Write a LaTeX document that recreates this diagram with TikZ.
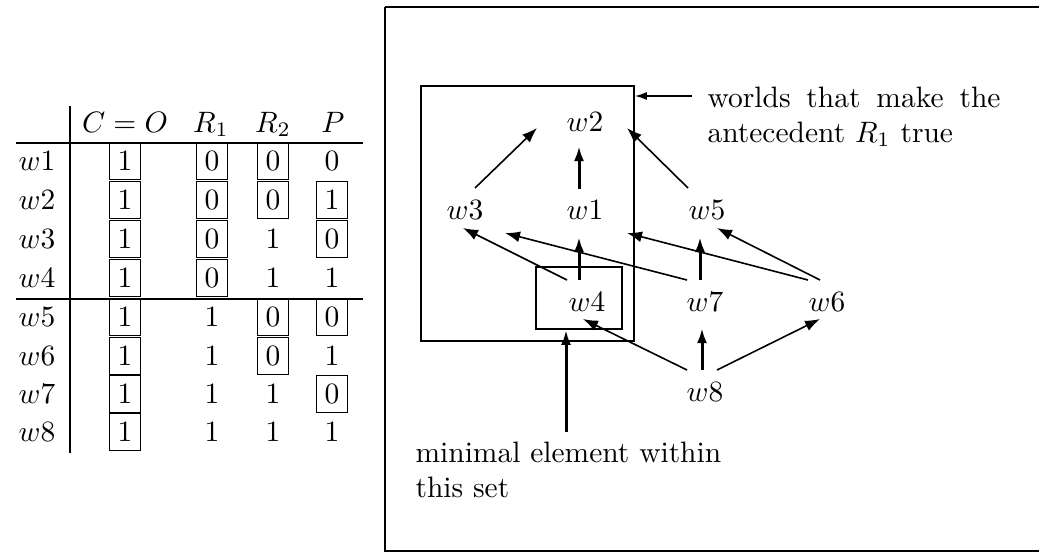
\documentclass[tikz,border=0pt]{standalone}
\usetikzlibrary{arrows.meta}
\begin{document}
\begin{tikzpicture}[x=1pt,y=-1pt,
  every node/.style={inner sep=0pt},
  tx/.style={scale=2.95, transform shape},
  frame/.style={draw, line width=1.7pt},
  rulel/.style={line width=1.7pt},
  val/.style={tx, minimum width=10.5pt, minimum height=12.54pt},
  bval/.style={val, draw, line width=1.7pt},
  darr/.style={-{Latex[length=15pt,width=11pt]}, line width=1.6pt},
  varr/.style={-{Latex[length=15pt,width=10pt]}, line width=3pt},
  sarr/.style={-{Latex[length=12pt,width=8pt]}, line width=1.6pt},
]
\useasboundingbox (0,0) rectangle (1039,552);
% ---------- table ----------
\node[tx, anchor=base] (hC) at (125,132) {$C=O$};
\node[tx, anchor=base] (hR1) at (211,132) {$R_1$};
\node[tx, anchor=base] (hR2) at (273,132) {$R_2$};
\node[tx, anchor=base] (hP) at (333,132) {$P$};
\draw[rulel] (70,106) -- (70,453);
\draw[rulel] (16,143) -- (363,143);
\draw[rulel] (16,299) -- (363,299);
% rows
\foreach \i/\y in {1/161,2/200,3/239,4/278,5/317,6/356,7/394,8/432}{
  \node[val] (l\i) at (37,\y) {$w\i$};
  \node[bval] (c\i) at (125,\y) {1};
}
% R1 column
\node[bval] (r11) at (212,161) {0};
\node[bval] (r12) at (212,200) {0};
\node[bval] (r13) at (212,239) {0};
\node[bval] (r14) at (212,278) {0};
\node[val] (r15) at (212,317) {1};
\node[val] (r16) at (212,356) {1};
\node[val] (r17) at (212,394) {1};
\node[val] (r18) at (212,432) {1};
% R2 column
\node[bval] (s1) at (273,161) {0};
\node[bval] (s2) at (273,200) {0};
\node[val] (s3) at (273,239) {1};
\node[val] (s4) at (273,278) {1};
\node[bval] (s5) at (273,317) {0};
\node[bval] (s6) at (273,356) {0};
\node[val] (s7) at (273,394) {1};
\node[val] (s8) at (273,432) {1};
% P column
\node[val] (p1) at (332,161) {0};
\node[bval] (p2) at (332,200) {1};
\node[bval] (p3) at (332,239) {0};
\node[val] (p4) at (332,278) {1};
\node[bval] (p5) at (332,317) {0};
\node[val] (p6) at (332,356) {1};
\node[bval] (p7) at (332,394) {0};
\node[val] (p8) at (332,432) {1};
% ---------- diagram ----------
\draw[frame] (385,6.7) -- (1041,6.7) (385,6.7) -- (385,551) -- (1041,551);
\node[frame, minimum width=213pt, minimum height=255pt] (abox) at (527.5,213.5) {};
\node[frame, minimum width=86pt, minimum height=62pt] (mbox) at (579,298) {};
\node[tx] (w2) at (585,122) {$w2$};
\node[tx] (w3) at (465,210) {$w3$};
\node[tx] (w1) at (585,210) {$w1$};
\node[tx] (w5) at (707,210) {$w5$};
\node[tx] (w4) at (587,302) {$w4$};
\node[tx] (w7) at (705,302) {$w7$};
\node[tx] (w6) at (827,302) {$w6$};
\node[tx] (w8) at (705,392) {$w8$};
\draw[darr] ([shift={(10,-22)}]w3.center) -- ([shift={(-48,6)}]w2.center);
\draw[varr] ([shift={(-6,-21)}]w1.center) -- ([shift={(-6,24)}]w2.center);
\draw[darr] ([shift={(-19,-22)}]w5.center) -- ([shift={(42,6)}]w2.center);
\draw[darr] ([shift={(-20,-22)}]w4.center) -- ([shift={(-2,18)}]w3.center);
\draw[varr] ([shift={(-8,-22)}]w4.center) -- ([shift={(-6,27)}]w1.center);
\draw[darr] ([shift={(-18,-22)}]w7.center) -- ([shift={(40,23)}]w3.center);
\draw[varr] ([shift={(-5,-22)}]w7.center) -- ([shift={(-7,27)}]w5.center);
\draw[darr] ([shift={(-19,-22)}]w6.center) -- ([shift={(42,23)}]w1.center);
\draw[darr] ([shift={(-7,-22)}]w6.center) -- ([shift={(10,18)}]w5.center);
\draw[darr] ([shift={(-18,-22)}]w8.center) -- ([shift={(-4,17)}]w4.center);
\draw[varr] ([shift={(-3,-22)}]w8.center) -- ([shift={(-3,26)}]w7.center);
\draw[darr] ([shift={(12,-22)}]w8.center) -- ([shift={(-7,17)}]w6.center);
% annotations
\node[tx, anchor=base west, text width=99.3pt, align=justify] (t1) at (707,107)
  {\noindent worlds that make the\linebreak antecedent $R_1$ true};
\node[tx, anchor=base west, text width=105pt, align=left] (t2) at (415,462)
  {minimal element within\\this set};
\coordinate (a0) at (692,96);
\draw[sarr] (a0) -- (a0 -| abox.east);
\coordinate (m0) at (566,432);
\draw[varr] (m0) -- (m0 |- mbox.south);
\end{tikzpicture}
\end{document}
